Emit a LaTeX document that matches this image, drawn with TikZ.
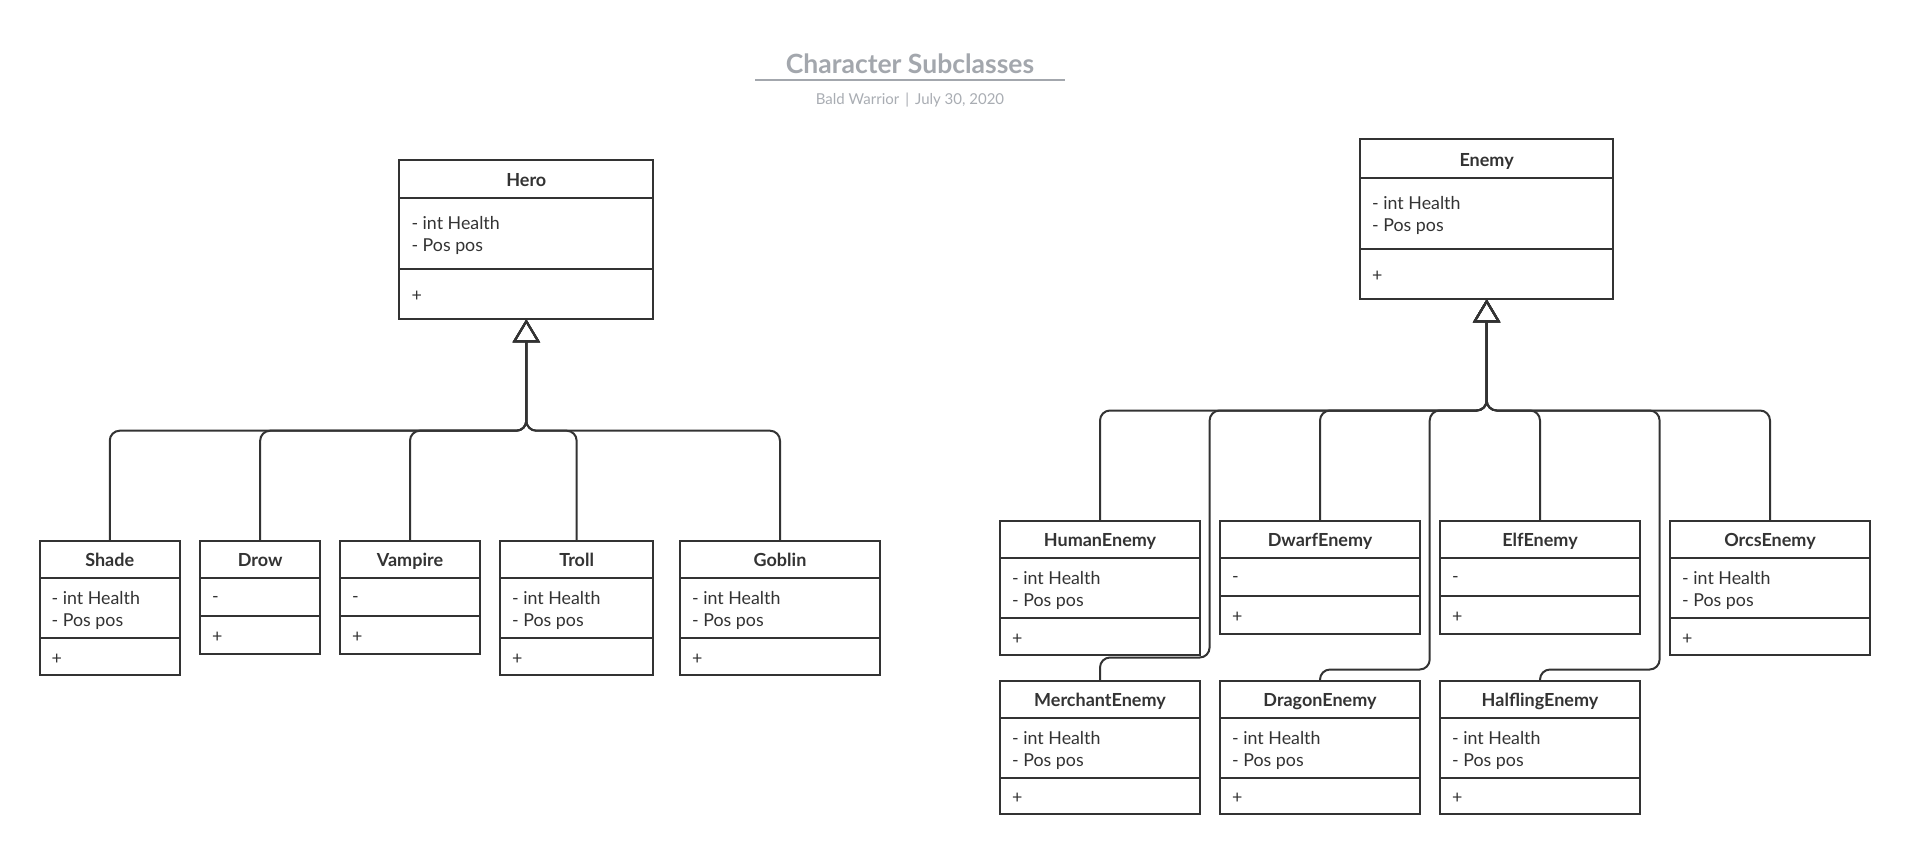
\documentclass[tikz,border=0pt]{standalone}
\usepackage{fontspec}
\setmainfont{Lato}
\usetikzlibrary{arrows.meta}
\definecolor{ink}{HTML}{333333}
\definecolor{titlegrey}{HTML}{A3A7AD}
\definecolor{subgrey}{HTML}{A9ADB3}
\tikzset{
  classbox/.style={draw=ink, line width=2pt, inner sep=0pt, outer sep=0pt, fill=white},
  divline/.style={draw=ink, line width=2pt},
  titletext/.style={font=\fontsize{18}{21}\selectfont\bfseries, text=ink, inner sep=0pt, text height=12.9pt, text depth=0pt, yshift=-1.2pt},
  attrtext/.style={font=\fontsize{17.8}{22}\selectfont, text=ink, inner sep=0pt, anchor=west, align=left, yshift=-2.4pt},
  conn/.style={draw=ink, line width=2pt, rounded corners=10pt},
  inherit/.style={conn, -{Triangle[open, length=23pt, width=27pt]}},
  headtitle/.style={font=\fontsize{26.5}{31}\selectfont\bfseries, text=titlegrey, inner sep=0pt, text height=19pt, text depth=0pt},
  headsub/.style={font=\fontsize{15}{18}\selectfont, text=subgrey, inner sep=0pt, text height=10.8pt, text depth=0pt},
}
\newcommand{\umlclass}[9]{%
  \pgfmathsetmacro\ucx{(#3+#4)/2}%
  \pgfmathsetmacro\ucy{(#5+#8)/2}%
  \pgfmathsetmacro\ucw{#4-#3}%
  \pgfmathsetmacro\uch{#8-#5}%
  \pgfmathsetmacro\uty{(#5+#6)/2}%
  \pgfmathsetmacro\uay{(#6+#7)/2}%
  \pgfmathsetmacro\uoy{(#7+#8)/2}%
  \node[classbox, minimum width=\ucw pt, minimum height=\uch pt] (#1) at (\ucx,\ucy) {};
  \draw[divline] (#3,#6) -- (#4,#6);
  \draw[divline] (#3,#7) -- (#4,#7);
  \node[titletext] (#1-name) at (\ucx,\uty) {#2};
  \node[attrtext] (#1-attr) at (#3+12,\uay) {#9};
  \node[attrtext] (#1-ops) at (#3+12,\uoy) {+};
}
\begin{document}
\begin{tikzpicture}[x=1pt, y=-1pt]
\fill[white] (0,0) rectangle (1910,855);
\useasboundingbox (0,0) rectangle (1910,855);

% header
\node[headtitle] (title) at (910,63.5) {Character Subclasses};
\coordinate (ulL) at (755,80);
\coordinate (ulR) at (1065,80);
\draw[titlegrey, line width=2pt] (ulL) -- (ulR);
\node[headsub] (subtitle) at (910,98.7) {Bald Warrior\hspace{6pt}|\hspace{6pt}July 30, 2020};

% Hero side
\umlclass{hero}{Hero}{399.3}{653.3}{160}{197.7}{269.3}{319.3}{- int Health\\- Pos pos}
\umlclass{shade}{Shade}{39.5}{180}{540.7}{577.7}{638.3}{675}{- int Health\\- Pos pos}
\umlclass{drow}{Drow}{200}{320.3}{540.7}{577.7}{616}{654}{-}
\umlclass{vampire}{Vampire}{340}{480}{540.7}{577.7}{616}{654}{-}
\umlclass{troll}{Troll}{500}{653.3}{540.7}{577.7}{638.3}{675}{- int Health\\- Pos pos}
\umlclass{goblin}{Goblin}{680}{880}{540.7}{577.7}{638.3}{675}{- int Health\\- Pos pos}

% Enemy side
\umlclass{enemy}{Enemy}{1360}{1613.3}{139.3}{177.7}{249.3}{299.3}{- int Health\\- Pos pos}
\umlclass{human}{HumanEnemy}{1000}{1200}{520.7}{557.7}{618.3}{654.5}{- int Health\\- Pos pos}
\umlclass{dwarf}{DwarfEnemy}{1220}{1420}{520.7}{557.7}{596}{634}{-}
\umlclass{elf}{ElfEnemy}{1440}{1640}{520.7}{557.7}{596}{634}{-}
\umlclass{orcs}{OrcsEnemy}{1670}{1870}{520.7}{557.7}{618.3}{654.5}{- int Health\\- Pos pos}
\umlclass{merchant}{MerchantEnemy}{1000}{1200}{680.7}{717.7}{777.7}{814.3}{- int Health\\- Pos pos}
\umlclass{dragon}{DragonEnemy}{1220}{1420}{680.7}{717.7}{777.7}{814.3}{- int Health\\- Pos pos}
\umlclass{halfling}{HalflingEnemy}{1440}{1640}{680.7}{717.7}{777.7}{814.3}{- int Health\\- Pos pos}

% Hero connectors
\coordinate (hbus) at (hero.south |- 0,430.7);
\foreach \c in {shade,drow,vampire,troll,goblin}
  \draw[inherit] (\c.north) |- (hbus) -- (hero.south);

% Enemy connectors
\coordinate (ebus) at (enemy.south |- 0,410.5);
\foreach \c in {human,dwarf,elf,orcs}
  \draw[inherit] (\c.north) |- (ebus) -- (enemy.south);
\coordinate (mturn) at (1209.6,657.5);
\coordinate (dturn) at (1429.7,669.5);
\coordinate (fturn) at (1659.6,669.5);
\draw[inherit] (merchant.north) |- (mturn) |- (ebus) -- (enemy.south);
\draw[inherit] (dragon.north) |- (dturn) |- (ebus) -- (enemy.south);
\draw[inherit] (halfling.north) |- (fturn) |- (ebus) -- (enemy.south);
\end{tikzpicture}
\end{document}
